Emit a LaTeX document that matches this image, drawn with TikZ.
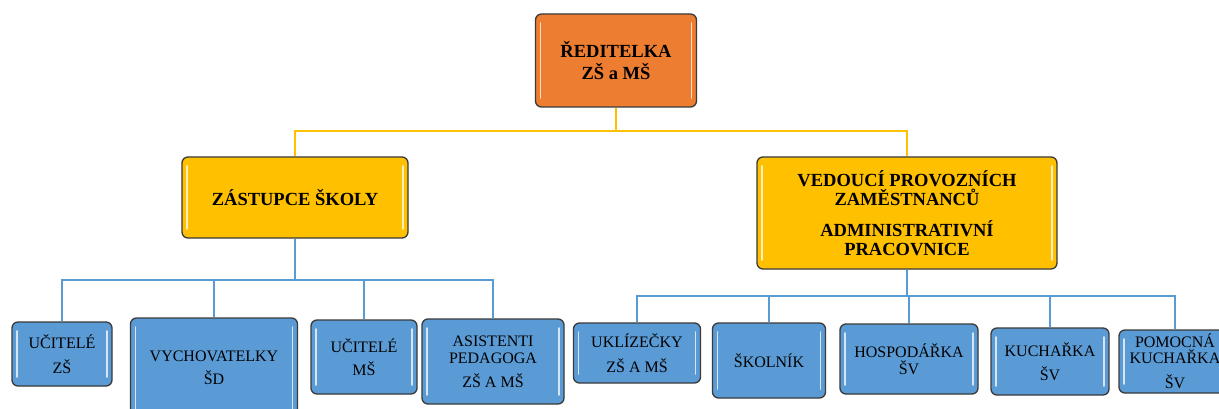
\documentclass[tikz,border=0pt]{standalone}
\usepackage{fontspec}
\setmainfont{Liberation Serif}
\definecolor{orangebox}{HTML}{ED7D31}
\definecolor{yellowbox}{HTML}{FFC000}
\definecolor{bluebox}{HTML}{5B9BD5}
\definecolor{yline}{HTML}{FFC000}
\definecolor{bline}{HTML}{5B9BD5}
\definecolor{edge}{HTML}{3A3A3A}
\tikzset{
  box/.style={draw=edge, line width=1.3pt, rounded corners=6pt, align=center, inner sep=0pt,
    path picture={
      \draw[white, opacity=0.75, line width=1.6pt, line cap=round]
        ([xshift=5pt,yshift=-9pt]path picture bounding box.north west) --
        ([xshift=5pt,yshift=9pt]path picture bounding box.south west);
      \draw[white, opacity=0.75, line width=1.6pt, line cap=round]
        ([xshift=-5pt,yshift=-9pt]path picture bounding box.north east) --
        ([xshift=-5pt,yshift=9pt]path picture bounding box.south east);
    }},
  headbox/.style={box, font=\fontsize{18.5}{21.5}\selectfont\bfseries},
  kidbox/.style={box, fill=bluebox, font=\fontsize{16}{18.5}\selectfont},
  yconn/.style={draw=yline, line width=2pt},
  bconn/.style={draw=bline, line width=2pt},
}
\begin{document}
\begin{tikzpicture}[x=1pt,y=-1pt]
\clip (0,0) rectangle (1219,409);
\fill[white] (0,0) rectangle (1219,409);
% head nodes
\node[headbox, fill=orangebox, minimum width=161pt, minimum height=93pt] (dir) at (616,60.5) {ŘEDITELKA\\ZŠ a MŠ};
\node[headbox, fill=yellowbox, minimum width=226pt, minimum height=81pt] (zast) at (295,197.5) {ZÁSTUPCE ŠKOLY};
\node[headbox, fill=yellowbox, minimum width=300pt, minimum height=112pt] (ved) at (907,213)
  {VEDOUCÍ PROVOZNÍCH\\[-2pt]ZAMĚSTNANCŮ\\[9pt]ADMINISTRATIVNÍ\\[-2pt]PRACOVNICE};
% children left
\node[kidbox, minimum width=100pt, minimum height=64pt] (uzs) at (62,354) {UČITELÉ\\[6pt]ZŠ};
\node[kidbox, minimum width=167pt, minimum height=100pt] (vych) at (214,368) {VYCHOVATELKY\\[4pt]ŠD};
\node[kidbox, minimum width=106pt, minimum height=74pt] (ums) at (364,357) {UČITELÉ\\[5pt]MŠ};
\node[kidbox, minimum width=142pt, minimum height=85pt] (asis) at (493,361.5) {ASISTENTI\\[-1pt]PEDAGOGA\\[5pt]ZŠ A MŠ};
% children right
\node[kidbox, minimum width=127pt, minimum height=60pt] (ukl) at (637,353) {UKLÍZEČKY\\[6pt]ZŠ A MŠ};
\node[kidbox, minimum width=113pt, minimum height=75pt] (skol) at (769,360.5) {ŠKOLNÍK};
\node[kidbox, minimum width=138pt, minimum height=70pt] (hosp) at (909,359) {HOSPODÁŘKA\\[-2pt]ŠV};
\node[kidbox, minimum width=118pt, minimum height=67pt] (kuch) at (1050,361.5) {KUCHAŘKA\\[6pt]ŠV};
\node[kidbox, minimum width=112pt, minimum height=63pt] (pom) at (1175,361.5) {POMOCNÁ\\[-3pt]KUCHAŘKA\\[7pt]ŠV};
% connectors
\coordinate (ybus) at (616,131);
\coordinate (lbus) at (295,280);
\coordinate (rbus) at (907,296);
\draw[yconn] (dir.south) -- (ybus);
\draw[yconn] (ybus) -| (zast.north);
\draw[yconn] (ybus) -| (ved.north);
\draw[bconn] (zast.south) -- (lbus);
\foreach \k in {uzs,vych,ums,asis} \draw[bconn] (lbus) -| (\k.north);
\draw[bconn] (ved.south) -- (rbus);
\foreach \k in {ukl,skol,hosp,kuch,pom} \draw[bconn] (rbus) -| (\k.north);
\end{tikzpicture}
\end{document}
